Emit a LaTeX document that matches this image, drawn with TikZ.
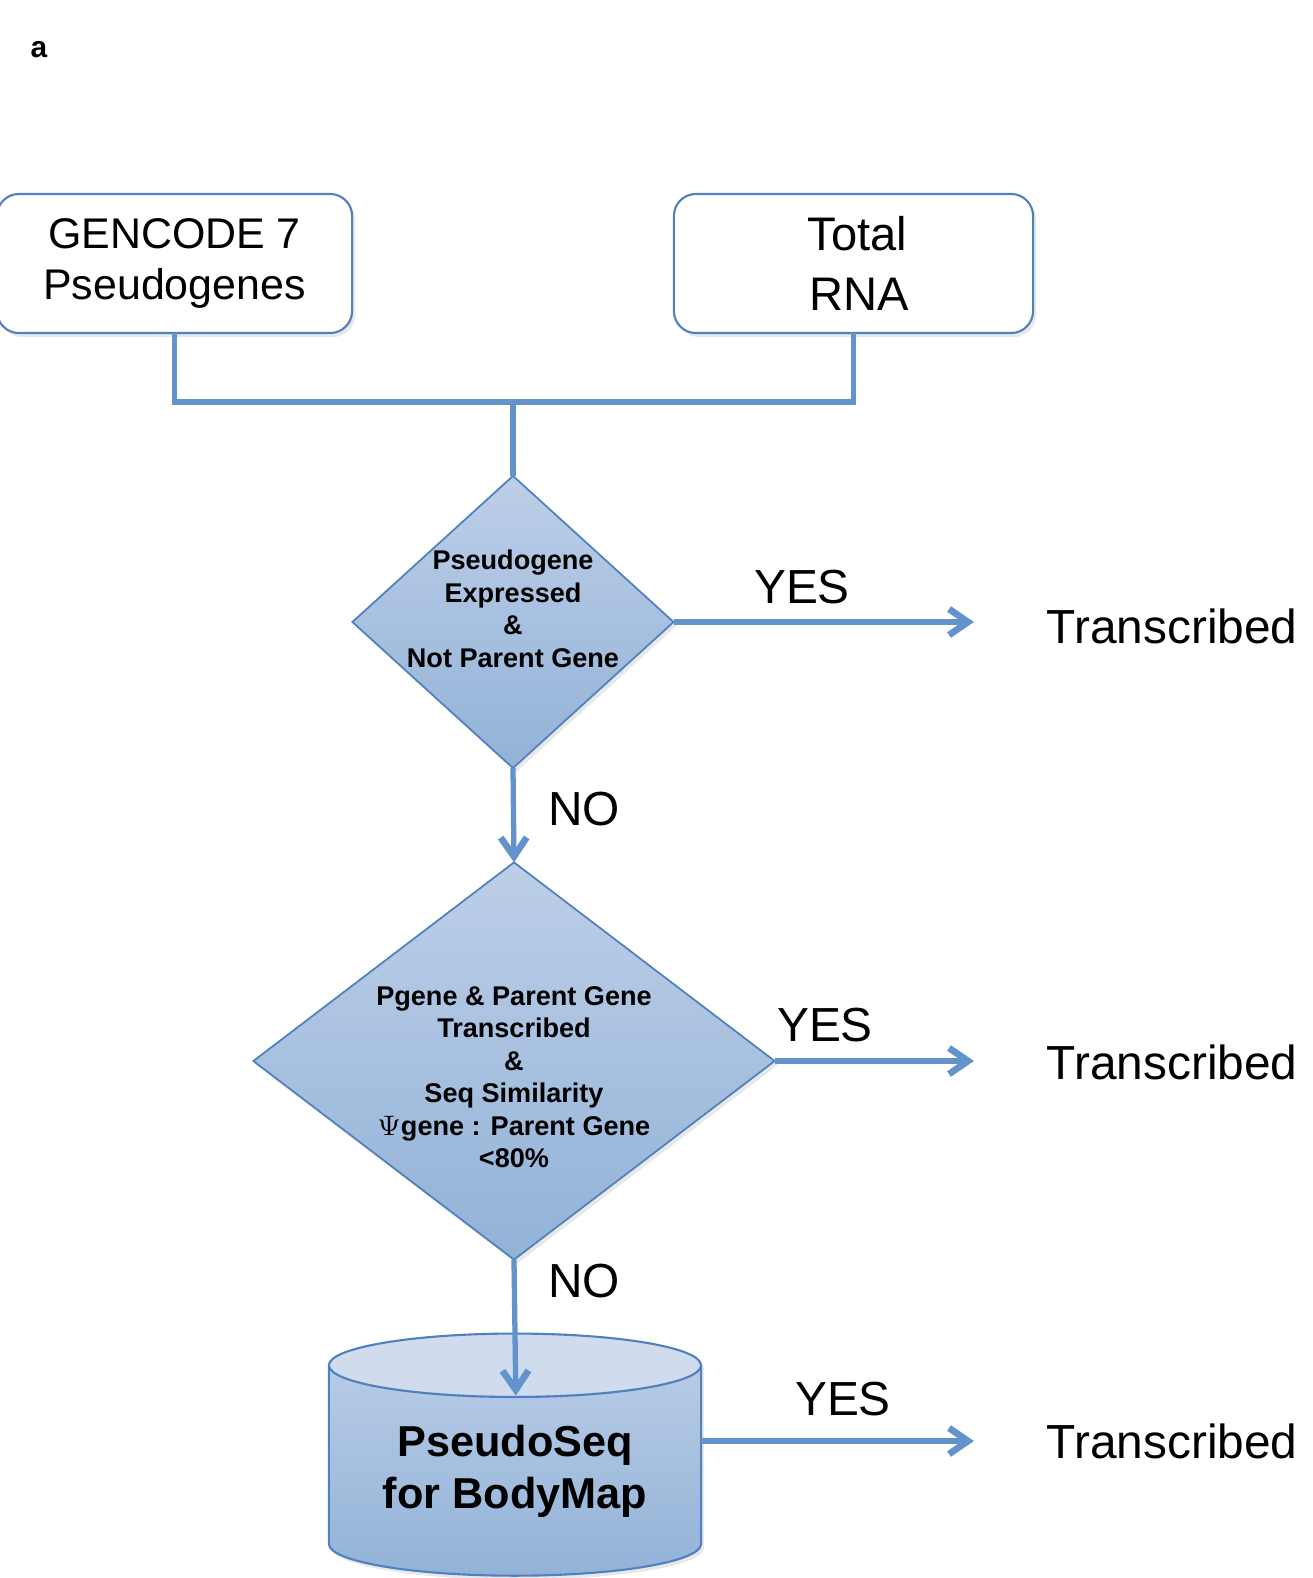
\documentclass[tikz,border=0pt]{standalone}
\usepackage{fontspec}
\setmainfont{Liberation Sans}
\usetikzlibrary{shapes.geometric, arrows.meta, shadows}

\definecolor{rimblue}{RGB}{79,129,189}
\definecolor{flowblue}{RGB}{98,147,202}
\definecolor{fillTop}{RGB}{189,207,232}
\definecolor{fillBot}{RGB}{146,178,215}
\definecolor{capfill}{RGB}{208,220,237}

\tikzset{
	softshadow/.style={drop shadow={shadow xshift=0.03cm, shadow yshift=-0.04cm, opacity=0.18}},
	srcbox/.style={shape=rectangle, rounded corners=0.22cm, draw=rimblue, line width=0.6pt, fill=white, align=center, inner sep=0pt, outer sep=0pt, softshadow},
	decision/.style={shape=diamond, draw=rimblue, line width=0.5pt, top color=fillTop, bottom color=fillBot, inner sep=0pt, outer sep=0pt, softshadow},
	qtext/.style={align=center, inner sep=0pt, font=\bfseries\fontsize{7.7}{9.25}\selectfont},
	store/.style={shape=cylinder, shape border rotate=90, draw=rimblue, line width=0.6pt, top color=fillTop, bottom color=fillBot, inner sep=0pt, outer sep=0pt, align=center, softshadow},
	flow/.style={draw=flowblue, line width=1.5pt, -{Straight Barb[length=0.19cm, width=0.26cm, line width=1.9pt]}},
	link/.style={draw=flowblue, line width=1.5pt},
	answer/.style={inner sep=0pt, font=\fontsize{13.6}{16}\selectfont},
}

\begin{document}
\begin{tikzpicture}[x=0.01cm, y=-0.01cm]
	\useasboundingbox (0, 0) rectangle (1313, 1578);

	\node[inner sep=0pt, font=\bfseries\fontsize{8.5}{10}\selectfont] (panel) at (39, 50) {a};

	\node[srcbox, minimum width=3.55cm, minimum height=1.39cm, font=\fontsize{12.2}{14.5}\selectfont] (gencode) at (174.5, 263.5) {GENCODE 7\\Pseudogenes};
	\node[srcbox, minimum width=3.59cm, minimum height=1.39cm, font=\fontsize{13.4}{16.9}\selectfont] (rna) at (853.5, 263.5) {\hspace{0.08cm}Total\\\hspace{0.12cm}RNA};
	\coordinate (j) at (513, 402);

	\node[decision, minimum width=3.21cm, minimum height=2.92cm,
		label={[qtext, yshift=0.13cm]center:Pseudogene\\Expressed\\\&\\Not Parent Gene}] (q1) at (513, 622) {};
	\node[decision, minimum width=5.21cm, minimum height=3.97cm,
		label={[qtext, yshift=-0.16cm]center:Pgene \& Parent Gene\\Transcribed\\\&\\Seq Similarity\\$\Psi$gene : Parent Gene\\<80\%}] (q2) at (514, 1061) {};
	\node[store, aspect=0.24, minimum width=3.72cm, minimum height=2.42cm,
		path picture={\fill[capfill] ([yshift=-0.31cm]path picture bounding box.north) ellipse (1.86cm and 0.31cm);},
		font=\bfseries\fontsize{12.3}{14.9}\selectfont] (db) at (515, 1471) {PseudoSeq\\for BodyMap};

	\node[answer, anchor=west] (t1) at (1046, 626) {Transcribed};
	\node[answer, anchor=west] (t2) at (1046, 1062) {Transcribed};
	\node[answer, anchor=west] (t3) at (1046, 1441) {Transcribed};

	\node[answer] (yes1) at (802, 587) {YES};
	\node[answer] (yes2) at (825, 1025) {YES};
	\node[answer] (yes3) at (843, 1399) {YES};
	\node[answer] (no1) at (584, 809) {NO};
	\node[answer] (no2) at (584, 1281) {NO};

	\draw[link] (gencode.south) |- (j) -| (rna.south);
	\draw[link] (j) -- (q1.north);

	\draw[flow] (q1.south) -- (q2.north);
	\draw[flow, shorten >=-0.62cm] (q2.south) -- (db.north);

	\draw[flow, shorten >=0.72cm] (q1.east) -- (q1.east -| t1.west);
	\draw[flow, shorten >=0.72cm] (q2.east) -- (q2.east -| t2.west);
	\draw[flow, shorten >=0.72cm] (db.east |- t3.west) -- (t3.west);

\end{tikzpicture}
\end{document}
